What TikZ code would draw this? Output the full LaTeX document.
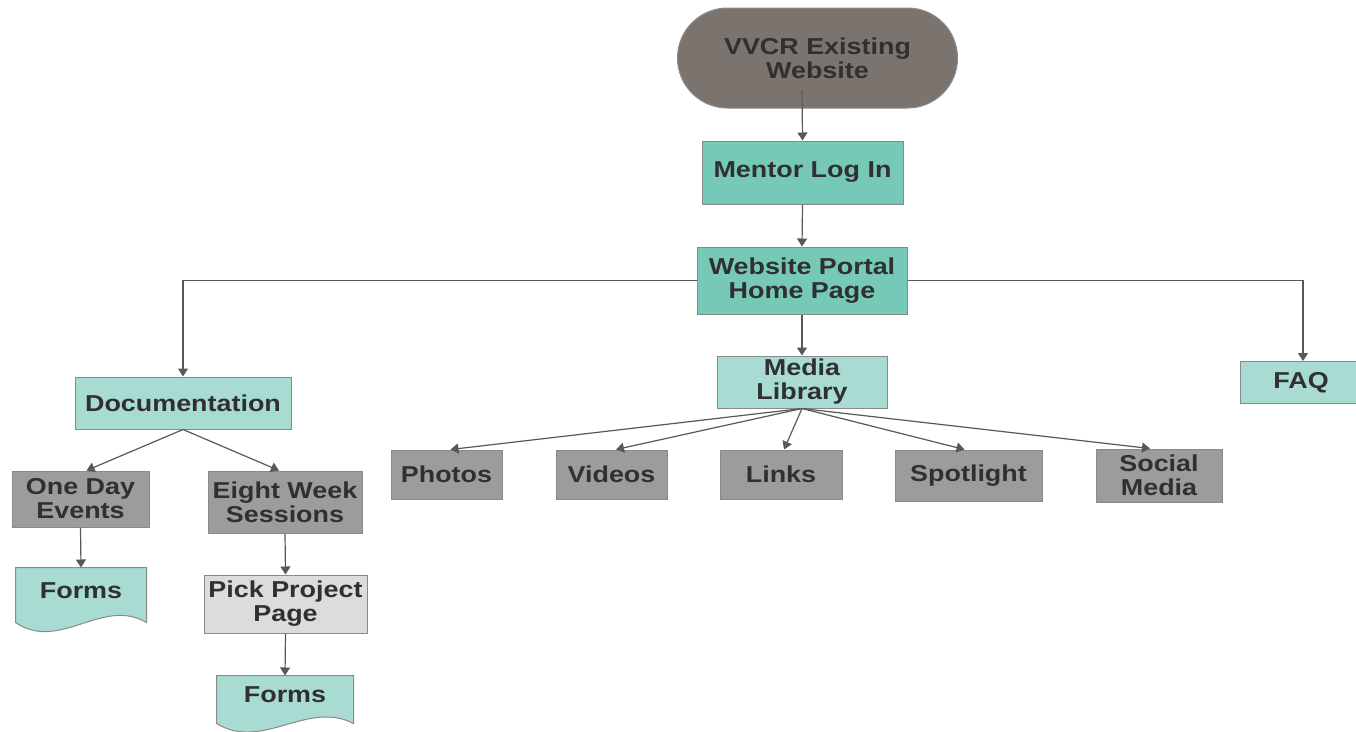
\documentclass[tikz,border=0pt]{standalone}
\usepackage{fontspec}
\setmainfont{Liberation Sans}[FakeStretch=1.17]
\usetikzlibrary{arrows.meta}
\definecolor{stad}{HTML}{7B746E}
\definecolor{tealA}{HTML}{76C9B6}
\definecolor{tealB}{HTML}{A8DCD3}
\definecolor{grayA}{HTML}{9C9C9C}
\definecolor{grayB}{HTML}{DCDCDC}
\definecolor{txt}{HTML}{303030}
\definecolor{edge}{HTML}{8A8A8A}
\definecolor{arr}{HTML}{585858}
\begin{document}
\begin{tikzpicture}[x=1pt,y=-1pt,
  box/.style={rectangle, draw=edge, line width=1pt, inner sep=0pt, align=center, text=txt,
    font=\fontsize{23}{24}\selectfont\bfseries},
  dark/.style={box, fill=tealA},
  light/.style={box, fill=tealB},
  grey/.style={box, fill=grayA},
  pale/.style={box, fill=grayB},
  docnode/.style={box, draw=none, text height=17pt, text depth=11pt},
  docshape/.style={draw=edge, line width=1pt, fill=tealB},
  conn/.style={draw=arr, line width=1.2pt, -{Triangle[width=10pt,length=8pt]}}]
\useasboundingbox (0,0) rectangle (1356,731);

% top stadium
\node[box, fill=stad, rounded corners=50pt, minimum width=280pt, minimum height=100pt] (vvcr) at (817.5,58) {VVCR Existing\\Website};
\coordinate (vvcrout) at (802,90);

\node[dark, minimum width=201pt, minimum height=63pt] (mentor) at (802.5,172.5) {Mentor Log In};
\node[dark, minimum width=210pt, minimum height=67pt] (portal) at (802,280.5) {Website Portal\\Home Page};
\node[light, minimum width=170pt, minimum height=52pt] (media) at (802,382) {Media\\Library};
\node[light, minimum width=216pt, minimum height=52pt] (doc) at (183,403) {Documentation};
\node[light, minimum width=122pt, minimum height=42pt] (faq) at (1301,382.5) {FAQ};

\node[grey, minimum width=111pt, minimum height=49pt] (photos) at (446.5,474.5) {Photos};
\node[grey, minimum width=111pt, minimum height=49pt] (videos) at (611.5,474.5) {Videos};
\node[grey, minimum width=122pt, minimum height=49pt] (links) at (781,474.5) {Links};
\node[grey, minimum width=147pt, minimum height=51pt] (spot) at (968.5,475.5) {Spotlight};
\node[grey, minimum width=126pt, minimum height=53pt] (social) at (1159,475.5) {Social\\Media};

\node[grey, minimum width=137pt, minimum height=56pt] (oneday) at (80.5,499) {One Day\\Events};
\node[grey, minimum width=154pt, minimum height=62pt] (eight) at (285,502) {Eight Week\\Sessions};
\node[pale, minimum width=163pt, minimum height=58pt] (pick) at (285.5,604) {Pick Project\\Page};

% document shapes
\node[docnode, minimum width=130pt, minimum height=54pt] (forms1) at (81,595) {};
\draw[docshape] (forms1.south east) -- (forms1.north east) -- (forms1.north west) -- (forms1.south west)
  .. controls +(44,30) and +(-44,-26) .. (forms1.south east) -- cycle;
\node[docnode, minimum width=130pt, minimum height=54pt] at (forms1) {Forms};

\node[docnode, minimum width=136pt, minimum height=47pt] (forms2) at (285,699.5) {};
\draw[docshape] (forms2.south east) -- (forms2.north east) -- (forms2.north west) -- (forms2.south west)
  .. controls +(46,28) and +(-46,-24) .. (forms2.south east) -- cycle;
\node[docnode, minimum width=136pt, minimum height=47pt] at (forms2) {Forms};

% connectors
\draw[conn] (vvcrout) -- (mentor.north);
\draw[conn] (mentor.south) -- (portal.north);
\draw[conn] (portal.south) -- (media.north);
\draw[conn] (portal.west) -| (doc.north);
\draw[conn] (portal.east) -| ([xshift=2pt]faq.north);

\draw[conn] (media.south) -- ([xshift=4pt]photos.north);
\draw[conn] (media.south) -- ([xshift=4.5pt]videos.north);
\draw[conn] (media.south) -- ([xshift=3pt]links.north);
\draw[conn] (media.south) -- ([xshift=-4pt]spot.north);
\draw[conn] (media.south) -- ([xshift=-9pt]social.north);

\draw[conn] (doc.south) -- ([xshift=6pt]oneday.north);
\draw[conn] (doc.south) -- ([xshift=-6pt]eight.north);
\draw[conn] (oneday.south) -- (forms1.north);
\draw[conn] (eight.south) -- (pick.north);
\draw[conn] (pick.south) -- (forms2.north);
\end{tikzpicture}
\end{document}
